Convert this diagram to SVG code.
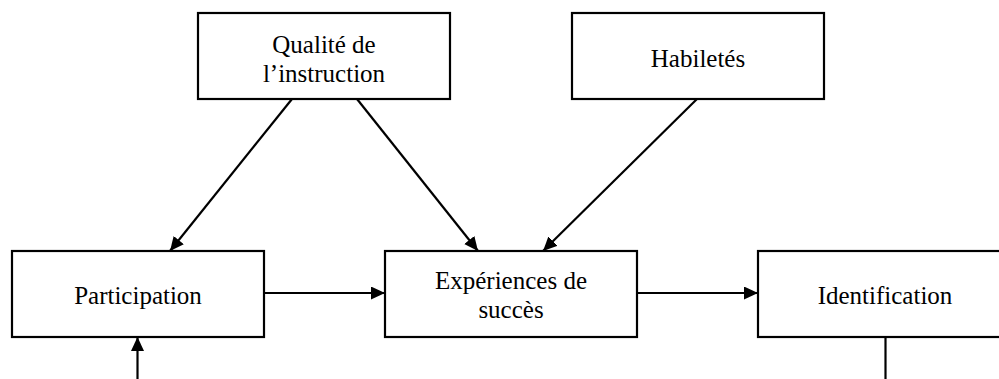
<svg xmlns="http://www.w3.org/2000/svg" width="999" height="379" viewBox="0 0 999 379">
  <style>
    .box { fill: #ffffff; stroke: #000000; stroke-width: 2.2; }
    .label { font-family: "Liberation Serif", "Times New Roman", serif; font-size: 25px; fill: #000000; text-anchor: middle; }
    .edge { fill: none; stroke: #000000; stroke-width: 2.2; }
  </style>
  <defs>
    <marker id="arrow" markerUnits="userSpaceOnUse" markerWidth="15" markerHeight="14" refX="14" refY="6.5" orient="auto">
      <path d="M0,0 L14,6.5 L0,13 Z" fill="#000000"/>
    </marker>
  </defs>
  <rect width="999" height="379" fill="#ffffff"/>

  <g id="connectors">
    <line class="edge" x1="292" y1="99" x2="170" y2="251" marker-end="url(#arrow)"/>
    <line class="edge" x1="357" y1="99" x2="478" y2="251" marker-end="url(#arrow)"/>
    <line class="edge" x1="697" y1="99" x2="543" y2="251" marker-end="url(#arrow)"/>
    <line class="edge" x1="264" y1="293" x2="385" y2="293" marker-end="url(#arrow)"/>
    <line class="edge" x1="637" y1="293" x2="758" y2="293" marker-end="url(#arrow)"/>
    <line class="edge" x1="137.5" y1="380" x2="137.5" y2="337" marker-end="url(#arrow)"/>
    <line class="edge" x1="885.5" y1="337" x2="885.5" y2="380"/>
  </g>

  <g id="qualite">
    <rect class="box" x="198" y="13" width="252" height="86"/>
    <text class="label" x="324" y="53">Qualité de</text>
    <text class="label" x="324" y="82">l’instruction</text>
  </g>
  <g id="habiletes">
    <rect class="box" x="572" y="13" width="252" height="86"/>
    <text class="label" x="698" y="67">Habiletés</text>
  </g>
  <g id="participation">
    <rect class="box" x="12" y="251" width="252" height="86"/>
    <text class="label" x="138" y="304">Participation</text>
  </g>
  <g id="experiences">
    <rect class="box" x="385" y="251" width="252" height="86"/>
    <text class="label" x="511" y="289">Expériences de</text>
    <text class="label" x="511" y="318">succès</text>
  </g>
  <g id="identification">
    <rect class="box" x="758" y="251" width="252" height="86"/>
    <text class="label" x="885" y="304">Identification</text>
  </g>
</svg>
